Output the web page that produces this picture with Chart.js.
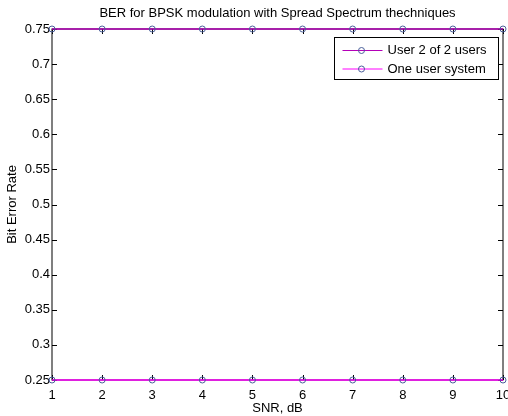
<!DOCTYPE html>
<html>
<head>
<meta charset="utf-8">
<script src="https://cdn.jsdelivr.net/npm/chart.js@4/dist/chart.umd.min.js"></script>
<style>
  html, body { margin: 0; padding: 0; background: #fff; }
  #wrap { width: 508px; height: 416px; }
</style>
</head>
<body>
<div id="wrap"><canvas id="c" width="508" height="416"></canvas></div>
<script>
// values
var snrDb = [1, 2, 3, 4, 5, 6, 7, 8, 9, 10]
var berUser2of2 = [0.75, 0.75, 0.75, 0.75, 0.75, 0.75, 0.75, 0.75, 0.75, 0.75]
var berOneUser = [0.25, 0.25, 0.25, 0.25, 0.25, 0.25, 0.25, 0.25, 0.25, 0.25]
var seriesNames = ["User 2 of 2 users", "One user system"]
var xTicks = [1, 2, 3, 4, 5, 6, 7, 8, 9, 10]
var yTicks = [0.25, 0.3, 0.35, 0.4, 0.45, 0.5, 0.55, 0.6, 0.65, 0.7, 0.75]

var FONT = "'Liberation Sans', Arial, sans-serif"
var markerColor = "#4a5f9a"

function toPoints(xs, ys) {
  return xs.map((x, i) => ({ x: x, y: ys[i] }))
}

// matlab style box, inward ticks, title and legend
var matlabFrame = {
  id: "matlabFrame",
  beforeDatasetsDraw: function (chart) {
    var ctx = chart.ctx
    var a = chart.chartArea
    var xs = chart.scales.x
    var ys = chart.scales.y
    ctx.save()
    ctx.strokeStyle = "#000"
    ctx.lineWidth = 1
    ctx.strokeRect(a.left, a.top, a.right - a.left, a.bottom - a.top)
    ctx.beginPath()
    xTicks.forEach((v) => {
      var px = Math.round(xs.getPixelForValue(v)) + 0.5
      ctx.moveTo(px, a.bottom); ctx.lineTo(px, a.bottom - 5)
      ctx.moveTo(px, a.top); ctx.lineTo(px, a.top + 5)
    })
    yTicks.forEach((v) => {
      var py = Math.round(ys.getPixelForValue(v)) + 0.5
      ctx.moveTo(a.left, py); ctx.lineTo(a.left + 5, py)
      ctx.moveTo(a.right, py); ctx.lineTo(a.right - 5, py)
    })
    ctx.stroke()
    ctx.restore()
  },
  afterDraw: function (chart) {
    var ctx = chart.ctx
    var a = chart.chartArea
    ctx.save()
    ctx.fillStyle = "#000"
    ctx.font = "13px " + FONT
    ctx.textAlign = "center"
    ctx.textBaseline = "middle"
    ctx.fillText("BER for BPSK modulation with Spread Spectrum thechniques", (a.left + a.right) / 2, 13)

    // legend box
    var lx = 334.5, ly = 37.5, lw = 164, lh = 42
    ctx.fillStyle = "#fff"
    ctx.fillRect(lx, ly, lw, lh)
    ctx.strokeStyle = "#000"
    ctx.lineWidth = 1
    ctx.strokeRect(lx, ly, lw, lh)
    chart.data.datasets.forEach((ds, i) => {
      var ry = 50.5 + i * 18.5
      ctx.strokeStyle = ds.borderColor
      ctx.beginPath()
      ctx.moveTo(lx + 8, ry); ctx.lineTo(lx + 48, ry)
      ctx.stroke()
      ctx.strokeStyle = markerColor
      ctx.beginPath()
      ctx.arc(lx + 27, ry, 3, 0, Math.PI * 2)
      ctx.stroke()
      ctx.fillStyle = "#000"
      ctx.textAlign = "left"
      ctx.fillText(ds.label, lx + 53, ry)
    })
    ctx.restore()
  },
}

var makeSet = (label, ys, color) => ({
  label: label,
  data: toPoints(snrDb, ys),
  borderColor: color,
  borderWidth: 1.3,
  pointStyle: "circle",
  pointRadius: 3,
  pointBorderWidth: 1,
  pointBorderColor: markerColor,
  pointBackgroundColor: "rgba(0,0,0,0)",
  tension: 0,
  clip: false,
})

var chart = new Chart(document.getElementById("c"), {
  type: "line",
  data: {
    datasets: [
      makeSet(seriesNames[0], berUser2of2, "#b400b8"),
      makeSet(seriesNames[1], berOneUser, "#ff00ff"),
    ],
  },
  options: {
    responsive: false,
    animation: false,
    events: [],
    layout: { autoPadding: false, padding: { top: 29, right: 5, bottom: 0, left: 0 } },
    plugins: { legend: { display: false }, title: { display: false }, tooltip: { enabled: false } },
    scales: {
      x: {
        type: "linear",
        min: 1,
        max: 10,
        afterBuildTicks: (s) => { s.ticks = xTicks.map((v) => ({ value: v })) },
        afterFit: (s) => { s.height = 36; s.paddingLeft = 0; s.paddingRight = 0 },
        grid: { display: false, drawTicks: false },
        border: { display: false },
        ticks: { color: "#000", font: { family: FONT, size: 13 }, padding: 8, maxRotation: 0, autoSkip: false },
        title: { display: true, text: "SNR, dB", color: "#000", font: { family: FONT, size: 13 }, padding: { top: 0, bottom: 0 } },
      },
      y: {
        type: "linear",
        min: 0.25,
        max: 0.75,
        afterBuildTicks: (s) => { s.ticks = yTicks.map((v) => ({ value: v })) },
        afterFit: (s) => { s.width = 52; s.paddingTop = 0; s.paddingBottom = 0 },
        grid: { display: false, drawTicks: false },
        border: { display: false },
        ticks: {
          color: "#000",
          font: { family: FONT, size: 13 },
          padding: 2,
          autoSkip: false,
          callback: (v) => String(Math.round(v * 100) / 100),
        },
        title: { display: true, text: "Bit Error Rate", color: "#000", font: { family: FONT, size: 13 }, padding: { top: 5, bottom: 0 } },
      },
    },
  },
  plugins: [matlabFrame],
})
</script>
</body>
</html>
